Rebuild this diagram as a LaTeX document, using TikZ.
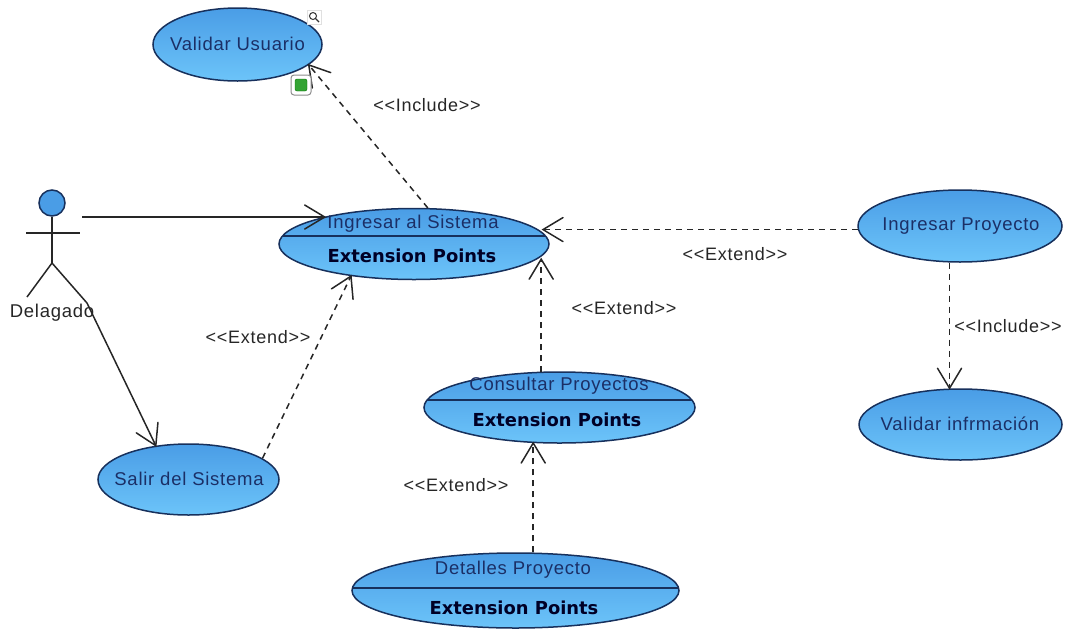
\documentclass[tikz,border=0pt]{standalone}
\usepackage{fontspec}
\setmainfont[LetterSpace=4]{Liberation Sans}
\newfontfamily\pointsfont{DejaVu Sans}
\usepackage{tikz}
\usetikzlibrary{calc}
\usetikzlibrary{arrows.meta}
\usetikzlibrary{shapes.geometric}
\definecolor{caseedge}{HTML}{17305C}
\definecolor{casetop}{HTML}{4A9DE6}
\definecolor{casebottom}{HTML}{6CC4F9}
\definecolor{casetext}{HTML}{1B2F66}
\pgfdeclarearrow{name=Open Vee,
  setup code={\pgfarrowssettipend{0pt}\pgfarrowssetlineend{-1pt}\pgfarrowssetbackend{-20pt}\pgfarrowssetvisualbackend{-20pt}},
  drawing code={\pgfsetdash{}{0pt}\pgfsetlinewidth{1.5pt}\pgfsetroundcap
    \pgfpathmoveto{\pgfqpoint{-20pt}{12pt}}\pgfpathlineto{\pgfpointorigin}\pgfpathlineto{\pgfqpoint{-20pt}{-12pt}}\pgfusepathqstroke}}

\begin{document}
\begin{tikzpicture}[x=1pt,y=-1pt]
  \tikzstyle{case node}=[ellipse,draw=caseedge,line width=1.5pt,inner sep=0,top color=casetop,bottom color=casebottom]
  \tikzstyle{case text}=[inner sep=0,text=casetext,font=\fontsize{18.5}{20}\selectfont]
  \tikzstyle{points text}=[inner sep=0,text=black!85!blue,font=\pointsfont\bfseries\fontsize{17.9}{20}\selectfont]
  \tikzstyle{stereo text}=[inner sep=0,text=black!85,font=\fontsize{18}{20}\selectfont]
  \tikzset{
divider/.style={path picture={\draw[caseedge,line width=2pt]
  ($(path picture bounding box.north west)!#1!(path picture bounding box.south west)$) --
  ($(path picture bounding box.north east)!#1!(path picture bounding box.south east)$);}},
solid line/.style={draw=black!85,line width=1.5pt,-{Open Vee}},
dash line/.style={solid line,dash pattern=on 6pt off 5pt},
figure line/.style={draw=black!85,line width=1.5pt}
}
  \useasboundingbox (0,0) rectangle (1069,630);
  % usos
  \node[case node,minimum width=169pt,minimum height=73pt](validar) at (237.5,44.5){};
  \node[case text] (validar text) at (237.5,44){Validar Usuario};
  \node[case node,divider=0.39,minimum width=270pt,minimum height=71pt](ingresar) at (414,244){};
  \node[case text] (ingresar text) at (413,224){Ingresar al Sistema};
  \node[points text] (ingresar points) at (412,256){Extension Points};
  \node[case node,minimum width=204pt,minimum height=72pt](proyecto) at (960,226){};
  \node[case text] (proyecto text) at (961,226){Ingresar Proyecto};
  \node[case node,minimum width=181pt,minimum height=71pt](salir) at (188.5,479.5){};
  \node[case text] (salir text) at (189,479){Salir del Sistema};
  \node[case node,divider=0.39,minimum width=271pt,minimum height=71pt](consultar) at (559.5,407.5){};
  \node[case text] (consultar text) at (559,386){Consultar Proyectos};
  \node[points text] (consultar points) at (557,420){Extension Points};
  \node[case node,divider=0.47,minimum width=327pt,minimum height=75pt](detalles) at (515.5,590.5){};
  \node[case text] (detalles text) at (513,570){Detalles Proyecto};
  \node[points text] (detalles points) at (514,608){Extension Points};
  \node[case node,minimum width=203pt,minimum height=71pt](informacion) at (960.5,424.5){};
  \node[case text] (informacion text) at (960,424){Validar infrmación};
  % actor
  \node[circle,draw=caseedge,line width=1.5pt,fill=casetop,inner sep=0,minimum size=26pt](head) at (52,203){};
  \coordinate (hip) at (52,263);
  \coordinate (arm left) at (26,233);
  \coordinate (arm right) at (80,233);
  \coordinate (foot) at (27,297);
  \coordinate (knee) at (87,303);
  \coordinate (hand) at (82,217);
  \draw[figure line] (head.south) -- (hip);
  \draw[figure line] (arm left) -- (arm right);
  \draw[figure line] (hip) -- (foot);
  \draw[figure line] (hip) -- (knee);
  \node[inner sep=0,text=black!85,font=\fontsize{18.5}{20}\selectfont](delagado) at (52,313){Delagado};
  % lineas
  \draw[solid line] (hand) -- (hand -| ingresar.163);
  \draw[solid line] (knee) -- (salir.134);
  \draw[dash line] (ingresar.69.5) -- (validar.-16.6);
  \draw[dash line] (proyecto.-178) -- (proyecto.-178 -| ingresar.5);
  \draw[dash line] (consultar.117) -- (consultar.117 |- ingresar.-7);
  \draw[dash line] (detalles.65) -- (detalles.65 |- consultar.-127);
  \draw[dash line] (salir.16) -- (ingresar.-153);
  \draw[dash line] (proyecto.-106) -- (proyecto.-106 |- informacion.north);
  % etiquetas
  \node[stereo text] (include top) at (427,105){<{}<Include>{}>};
  \node[stereo text] (extend right) at (735,254){<{}<Extend>{}>};
  \node[stereo text] (extend middle) at (624,308){<{}<Extend>{}>};
  \node[stereo text] (extend left) at (258,337){<{}<Extend>{}>};
  \node[stereo text] (extend low) at (456,485){<{}<Extend>{}>};
  \node[stereo text] (include right) at (1008,326){<{}<Include>{}>};
  % iconos
  \node[draw=black!12,fill=white,inner sep=0,minimum size=14pt](lens box) at (314,17){};
  \node[circle,draw=black!80,line width=1pt,inner sep=0,minimum size=7pt](lens) at (313,16){};
  \coordinate (lens end) at (319,22);
  \draw[black!80,line width=1.2pt] (lens.-45) -- (lens end);
  \node[draw=black!45,fill=white,rounded corners=3pt,line width=1pt,inner sep=0,minimum size=20pt](mark box) at (301,85){};
  \node[draw=green!45!black,fill=green!55!black!80,rounded corners=2pt,inner sep=0,minimum size=12pt](mark) at (301,85){};
\end{tikzpicture}
\end{document}
